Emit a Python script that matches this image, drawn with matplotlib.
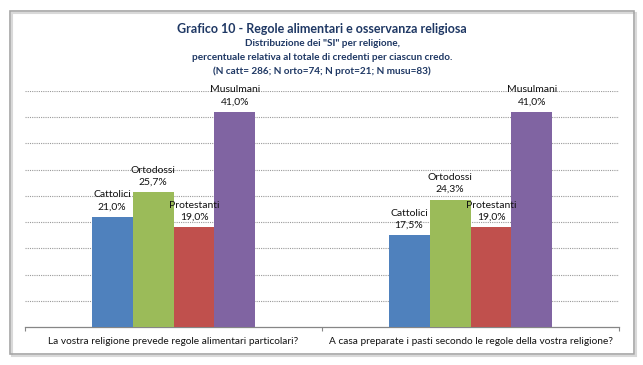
import matplotlib
matplotlib.use("Agg")
import matplotlib.pyplot as plt
from matplotlib.patches import Rectangle
import numpy as np

plt.rcParams['font.family'] = ['Lato', 'DejaVu Sans']

questions = ["La vostra religione prevede regole alimentari particolari?",
             "A casa preparate i pasti secondo le regole della vostra religione?"]
religions = ["Cattolici", "Ortodossi", "Protestanti", "Musulmani"]
values = {
    "Cattolici": [21.0, 17.5],
    "Ortodossi": [25.7, 24.3],
    "Protestanti": [19.0, 19.0],
    "Musulmani": [41.0, 41.0],
}
colors = ["#4F81BD", "#9BBB59", "#C0504D", "#8064A2"]
title_col = "#1F3864"

W, H = 643, 365
fig = plt.figure(figsize=(W / 100, H / 100), dpi=100)

# outer frame with a light shadow
shadow = Rectangle((12 / W, 9 / H), 624 / W, 343 / H, transform=fig.transFigure,
                   facecolor="none", edgecolor="#D9D9D9", linewidth=1.5)
frame = Rectangle((10 / W, 11 / H), 624 / W, 343 / H, transform=fig.transFigure,
                  facecolor="none", edgecolor="#A6A6A6", linewidth=1.2)
fig.patches.extend([shadow, frame])

ax = fig.add_axes([25 / W, (H - 327) / H, 594 / W, 236 / H])
ax.set_facecolor("none")

x = np.arange(len(questions))
bw = 0.138
for i, (rel, col) in enumerate(zip(religions, colors)):
    xs = x + (i - 1.5) * bw
    bars = ax.bar(xs, values[rel], width=bw, color=col, zorder=3)
    for b, v in zip(bars, values[rel]):
        ax.annotate(f"{rel}\n{v:.1f}%".replace(".", ","),
                    (b.get_x() + b.get_width() / 2, v),
                    xytext=(0, 4), textcoords="offset points",
                    ha="center", va="bottom", fontsize=7.5,
                    linespacing=1.45, color="#111111", zorder=6)

ax.set_xlim(-0.5, 1.5)
ax.set_ylim(0, 45)
ax.set_yticks(np.arange(5, 46, 5))
ax.yaxis.grid(True, linestyle=(0, (1, 1)), color="#9A9A9A", linewidth=0.8, zorder=0)
ax.set_axisbelow(True)
ax.tick_params(axis="y", left=False, labelleft=False)

ax.set_xticks(x)
ax.set_xticklabels(questions, fontsize=7.3, color="#111111")
ax.tick_params(axis="x", which="major", length=0, pad=7)
ax.set_xticks([-0.5, 0.5, 1.5], minor=True)
ax.tick_params(axis="x", which="minor", length=3, color="#868686", width=0.8)

for s in ["top", "right", "left"]:
    ax.spines[s].set_visible(False)
ax.spines["bottom"].set_color("#868686")
ax.spines["bottom"].set_linewidth(0.9)

fig.text(322 / W, 1 - 29 / H, "Grafico 10 - Regole alimentari e osservanza religiosa",
         ha="center", va="center", fontsize=9, fontweight="bold", color=title_col)
subs = ['Distribuzione dei "SI" per religione,',
        "percentuale relativa al totale di credenti per ciascun credo.",
        "(N catt= 286; N orto=74; N prot=21; N musu=83)"]
for k, s in enumerate(subs):
    fig.text(322 / W, 1 - (43 + 14 * k) / H, s, ha="center", va="center",
             fontsize=7.2, fontweight="bold", color=title_col)

fig.savefig("out.png", dpi=100)
